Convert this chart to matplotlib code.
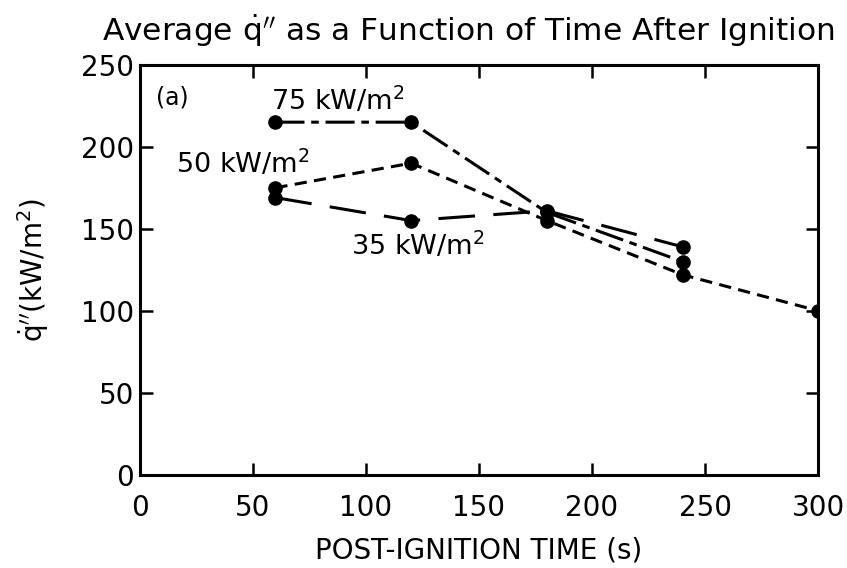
import matplotlib
matplotlib.use("Agg")
import matplotlib.pyplot as plt

# === data ===
t_75 = [60, 120, 180, 240]
q_75 = [215, 215, 160, 130]

t_50 = [60, 120, 180, 240, 300]
q_50 = [175, 190, 155, 122, 100]

t_35 = [60, 120, 180, 240]
q_35 = [169, 155, 161, 139]

xticks = [0, 50, 100, 150, 200, 250, 300]
yticks = [0, 50, 100, 150, 200, 250]

plt.rcParams["font.family"] = ["DejaVu Sans"]
plt.rcParams["mathtext.fontset"] = "dejavusans"

fig = plt.figure(figsize=(8.47, 5.68), dpi=100)
ax = fig.add_axes([0.165, 0.164, 0.801, 0.722])

kw = dict(color="black", lw=2.2, marker="o", ms=9.5)
ax.plot(t_75, q_75, dashes=(9.5, 2.2, 2.5, 2.2), **kw)
ax.plot(t_50, q_50, dashes=(4, 2.4), **kw)
ax.plot(t_35, q_35, dashes=(12, 6), **kw)

ax.set_xlim(0, 300)
ax.set_ylim(0, 250)
ax.set_xticks(xticks)
ax.set_yticks(yticks)
ax.tick_params(direction="in", length=9, width=1.8, top=True, right=True,
               labelsize=20)
ax.tick_params(axis="x", pad=14)
ax.tick_params(axis="y", pad=4)
for s in ax.spines.values():
    s.set_linewidth(2.2)

ax.text(7, 230, "(a)", fontsize=17, va="center")
ax.text(87.6, 222.5, "75 kW/m$^2$", fontsize=19.5, ha="center", va="baseline")
ax.text(45.6, 184, "50 kW/m$^2$", fontsize=19.5, ha="center", va="baseline")
ax.text(123, 134, "35 kW/m$^2$", fontsize=19.5, ha="center", va="baseline")

ax.set_xlabel("POST-IGNITION TIME (s)", fontsize=20, labelpad=10)
ax.set_ylabel(r"$\dot{\mathrm{q}}''$(kW/m$^2$)", fontsize=20, labelpad=22)
fig.text(0.553, 0.947, r"Average $\dot{\mathrm{q}}''$ as a Function of Time After Ignition",
         ha="center", va="center", fontsize=22.5)

fig.savefig("out.png", dpi=100)
